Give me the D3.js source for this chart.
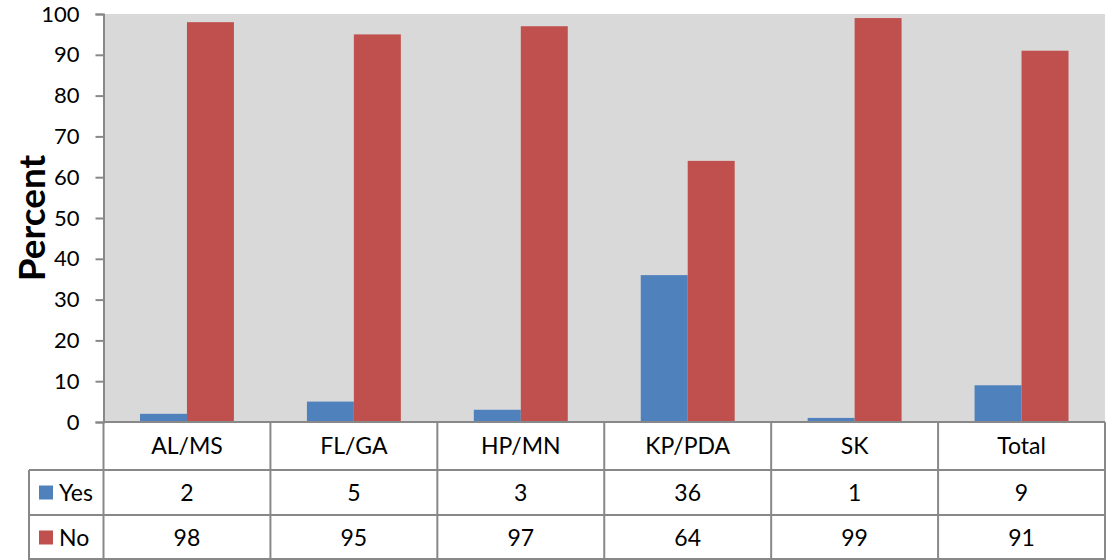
<!DOCTYPE html>
<html><head><meta charset="utf-8">
<script src="https://cdn.jsdelivr.net/npm/d3@7"></script>
<style>body{margin:0;background:#fff}svg{display:block}</style>
</head><body>
<svg id="c" width="1107" height="560"></svg>
<script>
const categories = ["AL/MS","FL/GA","HP/MN","KP/PDA","SK","Total"];
const seriesNames = ["Yes","No"];
const yesValues = [2,5,3,36,1,9];
const noValues = [98,95,97,64,99,91];
const yTicks = [0,10,20,30,40,50,60,70,80,90,100];
const colors = ["#4f81bd","#c0504d"];

(function(){
const svg = d3.select("#c");
const font = "Lato, 'Open Sans', sans-serif";
const pLeft = 103.5, pRight = 1105, pTop = 14, pBottom = 422;
const x = d3.scaleBand().domain(categories).range([pLeft, pRight]).paddingInner(0).paddingOuter(0);
const x1 = d3.scaleBand().domain(seriesNames).range([0, x.bandwidth()]).paddingInner(0).paddingOuter(0.777);
const y = d3.scaleLinear().domain([0,100]).range([pBottom, pTop]);

svg.append("rect").attr("x", pLeft).attr("y", pTop).attr("width", pRight-pLeft).attr("height", pBottom-pTop).attr("fill","#d9d9d9");

const series = [yesValues, noValues];
series.forEach((vals, si) => {
  svg.append("g").selectAll("rect").data(vals).join("rect")
    .attr("x", (d,i) => x(categories[i]) + x1(seriesNames[si]))
    .attr("y", d => y(d))
    .attr("width", x1.bandwidth())
    .attr("height", d => pBottom - y(d))
    .attr("fill", colors[si]);
});

const yAxis = d3.axisLeft(y).tickValues(yTicks).tickSize(8).tickPadding(16);
const ga = svg.append("g").attr("transform", `translate(${pLeft},0)`).call(yAxis);
ga.select(".domain").attr("stroke","#888").attr("stroke-width",2);
ga.selectAll(".tick line").attr("stroke","#888").attr("stroke-width",2);
ga.selectAll("text").attr("font-family", font).attr("font-size", 22).attr("fill","#000");

svg.append("text").attr("transform","translate(32,218) rotate(-90)")
  .attr("text-anchor","middle").attr("dy","0.35em").attr("font-family", font).attr("font-weight","bold")
  .attr("font-size", 37).attr("fill","#000").text("Percent");

const rowY = [pBottom, 470, 515, 560];
const tableLeft = 29;
const lc = "#888";
const g = svg.append("g");
g.append("line").attr("x1", pLeft).attr("x2", pRight).attr("y1", pBottom).attr("y2", pBottom).attr("stroke", lc).attr("stroke-width", 2);
[470,515].forEach(yy => g.append("line").attr("x1", tableLeft).attr("x2", pRight).attr("y1", yy).attr("y2", yy).attr("stroke", lc).attr("stroke-width", 2));
g.append("line").attr("x1", tableLeft).attr("x2", pRight).attr("y1", 559).attr("y2", 559).attr("stroke", lc).attr("stroke-width", 2);
g.append("line").attr("x1", tableLeft).attr("x2", tableLeft).attr("y1", 470).attr("y2", 560).attr("stroke", lc).attr("stroke-width", 2);
categories.forEach(c => g.append("line").attr("x1", x(c)).attr("x2", x(c)).attr("y1", pBottom).attr("y2", 560).attr("stroke", lc).attr("stroke-width", 2));
g.append("line").attr("x1", pRight).attr("x2", pRight).attr("y1", pBottom).attr("y2", 560).attr("stroke", lc).attr("stroke-width", 2);

g.selectAll("text.cat").data(categories).join("text").attr("class","cat")
  .attr("x", c => x(c) + x.bandwidth()/2).attr("y", 446).attr("dy","0.35em")
  .attr("text-anchor","middle").attr("font-family", font).attr("font-size", 23).text(c => c);

series.forEach((vals, si) => {
  const cy = (rowY[si+1] + rowY[si+2]) / 2;
  g.append("rect").attr("x", 39).attr("y", cy - 7).attr("width", 14).attr("height", 14).attr("fill", colors[si]);
  g.append("text").attr("x", 59).attr("y", cy).attr("dy","0.35em")
    .attr("font-family", font).attr("font-size", 23).text(seriesNames[si]);
  g.selectAll(null).data(vals).join("text")
    .attr("x", (d,i) => x(categories[i]) + x.bandwidth()/2).attr("y", cy).attr("dy","0.35em")
    .attr("text-anchor","middle").attr("font-family", font).attr("font-size", 23).text(d => d);
});
})();
</script>
</body></html>
